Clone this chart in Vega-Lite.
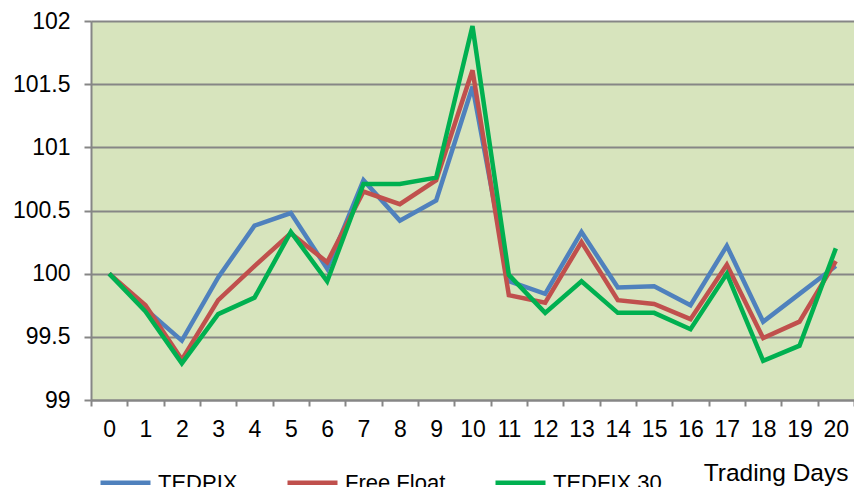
{
  "$schema": "https://vega.github.io/schema/vega-lite/v6.json",
  "width": 763,
  "height": 379,
  "autosize": {"type": "none"},
  "padding": {"left": 91, "top": 21, "right": 0, "bottom": 87},
  "background": "white",
  "view": {"fill": "#D7E4BD", "stroke": null},
  "config": {"font": "Liberation Sans"},
  "data": {"values": [
    {"day": 0, "s": "TEDPIX", "v": 100.0}, {"day": 1, "s": "TEDPIX", "v": 99.72}, {"day": 2, "s": "TEDPIX", "v": 99.47},
    {"day": 3, "s": "TEDPIX", "v": 99.97}, {"day": 4, "s": "TEDPIX", "v": 100.38}, {"day": 5, "s": "TEDPIX", "v": 100.48},
    {"day": 6, "s": "TEDPIX", "v": 100.04}, {"day": 7, "s": "TEDPIX", "v": 100.74}, {"day": 8, "s": "TEDPIX", "v": 100.42},
    {"day": 9, "s": "TEDPIX", "v": 100.58}, {"day": 10, "s": "TEDPIX", "v": 101.48}, {"day": 11, "s": "TEDPIX", "v": 99.94},
    {"day": 12, "s": "TEDPIX", "v": 99.84}, {"day": 13, "s": "TEDPIX", "v": 100.33}, {"day": 14, "s": "TEDPIX", "v": 99.89},
    {"day": 15, "s": "TEDPIX", "v": 99.9}, {"day": 16, "s": "TEDPIX", "v": 99.75}, {"day": 17, "s": "TEDPIX", "v": 100.22},
    {"day": 18, "s": "TEDPIX", "v": 99.62}, {"day": 19, "s": "TEDPIX", "v": 99.84}, {"day": 20, "s": "TEDPIX", "v": 100.06},
    {"day": 0, "s": "Free Float", "v": 100.0}, {"day": 1, "s": "Free Float", "v": 99.75}, {"day": 2, "s": "Free Float", "v": 99.32},
    {"day": 3, "s": "Free Float", "v": 99.79}, {"day": 4, "s": "Free Float", "v": 100.06}, {"day": 5, "s": "Free Float", "v": 100.32},
    {"day": 6, "s": "Free Float", "v": 100.09}, {"day": 7, "s": "Free Float", "v": 100.65}, {"day": 8, "s": "Free Float", "v": 100.55},
    {"day": 9, "s": "Free Float", "v": 100.74}, {"day": 10, "s": "Free Float", "v": 101.61}, {"day": 11, "s": "Free Float", "v": 99.83},
    {"day": 12, "s": "Free Float", "v": 99.77}, {"day": 13, "s": "Free Float", "v": 100.25}, {"day": 14, "s": "Free Float", "v": 99.79},
    {"day": 15, "s": "Free Float", "v": 99.76}, {"day": 16, "s": "Free Float", "v": 99.64}, {"day": 17, "s": "Free Float", "v": 100.07},
    {"day": 18, "s": "Free Float", "v": 99.49}, {"day": 19, "s": "Free Float", "v": 99.62}, {"day": 20, "s": "Free Float", "v": 100.1},
    {"day": 0, "s": "TEDFIX 30", "v": 100.0}, {"day": 1, "s": "TEDFIX 30", "v": 99.7}, {"day": 2, "s": "TEDFIX 30", "v": 99.29},
    {"day": 3, "s": "TEDFIX 30", "v": 99.68}, {"day": 4, "s": "TEDFIX 30", "v": 99.81}, {"day": 5, "s": "TEDFIX 30", "v": 100.33},
    {"day": 6, "s": "TEDFIX 30", "v": 99.94}, {"day": 7, "s": "TEDFIX 30", "v": 100.71}, {"day": 8, "s": "TEDFIX 30", "v": 100.71},
    {"day": 9, "s": "TEDFIX 30", "v": 100.76}, {"day": 10, "s": "TEDFIX 30", "v": 101.96}, {"day": 11, "s": "TEDFIX 30", "v": 99.99},
    {"day": 12, "s": "TEDFIX 30", "v": 99.69}, {"day": 13, "s": "TEDFIX 30", "v": 99.94}, {"day": 14, "s": "TEDFIX 30", "v": 99.69},
    {"day": 15, "s": "TEDFIX 30", "v": 99.69}, {"day": 16, "s": "TEDFIX 30", "v": 99.56}, {"day": 17, "s": "TEDFIX 30", "v": 100.0},
    {"day": 18, "s": "TEDFIX 30", "v": 99.31}, {"day": 19, "s": "TEDFIX 30", "v": 99.43}, {"day": 20, "s": "TEDFIX 30", "v": 100.2}
  ]},
  "mark": {"type": "line", "strokeWidth": 4.5, "strokeJoin": "miter"},
  "encoding": {
    "x": {
      "field": "day", "type": "ordinal",
      "scale": {"type": "band", "paddingInner": 0, "paddingOuter": 0},
      "axis": {
        "title": "Trading Days", "titleFontSize": 24.5, "titleFontWeight": "normal", "titleColor": "#000000",
        "titleX": 757, "titleY": 80, "titleAlign": "right", "titleBaseline": "alphabetic", "titleAnchor": null,
        "labelAngle": 0, "labelFontSize": 23, "labelColor": "#000000", "labelPadding": 12,
        "tickBand": "extent", "tickSize": 6, "tickColor": "#868686", "tickWidth": 2,
        "domainColor": "#868686", "domainWidth": 2, "grid": false
      }
    },
    "y": {
      "field": "v", "type": "quantitative",
      "scale": {"domain": [99, 102], "zero": false, "nice": false},
      "axis": {
        "title": null, "values": [99, 99.5, 100, 100.5, 101, 101.5, 102],
        "labelExpr": "toString(datum.value)", "labelFontSize": 23, "labelColor": "#000000", "labelPadding": 14,
        "tickSize": 7, "tickColor": "#868686", "tickWidth": 2,
        "domainColor": "#868686", "domainWidth": 2,
        "grid": true, "gridColor": "#868686", "gridWidth": 2
      }
    },
    "color": {
      "field": "s", "type": "nominal",
      "scale": {"domain": ["TEDPIX", "Free Float", "TEDFIX 30"], "range": ["#4F81BD", "#C0504D", "#00B050"]},
      "legend": {
        "title": null, "orient": "none", "direction": "horizontal", "legendX": 7, "legendY": 434,
        "symbolType": "stroke", "symbolSize": 2500, "symbolStrokeWidth": 4.5,
        "labelFontSize": 22, "labelColor": "#000000", "labelOffset": 5, "columnPadding": 40, "labelLimit": 300
      }
    }
  }
}
